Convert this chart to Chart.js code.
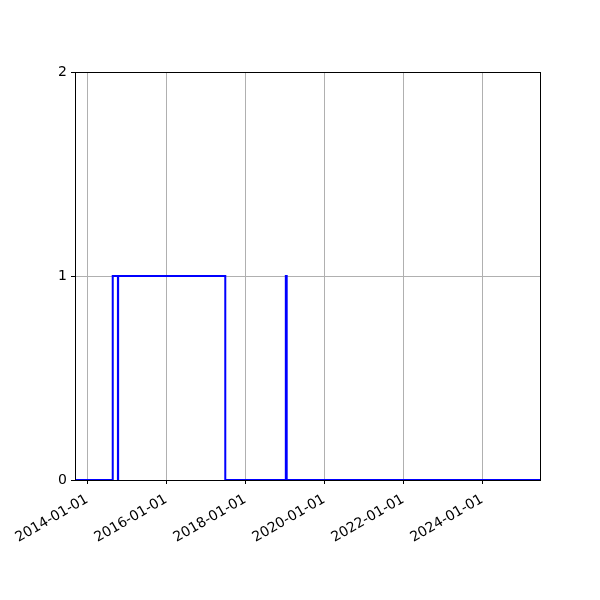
<!DOCTYPE html>
<html>
<head>
<meta charset="utf-8">
<script src="https://cdn.jsdelivr.net/npm/chart.js@4"></script>
<style>
  html, body { margin: 0; padding: 0; background: #fff; }
</style>
</head>
<body>
<canvas id="chart" width="600" height="600"></canvas>
<script>
// step data
const stepDates = ['2013-09-01', '2014-08-25', '2014-10-12', '2014-10-14', '2017-07-01', '2019-01-12', '2019-01-20', '2025-06-20'];
const stepValues = [0, 1, 0, 1, 0, 1, 0, 0];
const xTickDates = ['2014-01-01', '2016-01-01', '2018-01-01', '2020-01-01', '2022-01-01', '2024-01-01'];
const yTicks = [0, 1, 2];
const xMin = '2013-09-10';
const xMax = '2025-06-20';

function ts(s) { return Date.parse(s + 'T00:00:00Z'); }
function fmt(v) {
  const d = new Date(v);
  const p = n => String(n).padStart(2, '0');
  return d.getUTCFullYear() + '-' + p(d.getUTCMonth() + 1) + '-' + p(d.getUTCDate());
}

const points = stepDates.map((d, i) => ({ x: ts(d), y: stepValues[i] }));

// box around plot area like matplotlib
const boxPlugin = {
  id: 'box',
  afterDraw(chart) {
    const a = chart.chartArea, c = chart.ctx;
    c.save();
    c.strokeStyle = '#000';
    c.lineWidth = 1;
    c.strokeRect(Math.round(a.left) + 0.5, Math.round(a.top) + 0.5, Math.round(a.right - a.left), Math.round(a.bottom - a.top));
    c.restore();
  }
};

new Chart(document.getElementById('chart'), {
  type: 'line',
  data: {
    datasets: [{
      data: points,
      stepped: 'before',
      borderColor: '#0000ff',
      borderWidth: 2,
      pointRadius: 0,
      fill: false
    }]
  },
  options: {
    responsive: false,
    animation: false,
    devicePixelRatio: 1,
    layout: { padding: { top: 72, right: 60, left: 0, bottom: 0 } },
    plugins: { legend: { display: false }, tooltip: { enabled: false } },
    scales: {
      x: {
        type: 'linear',
        min: ts(xMin),
        max: ts(xMax),
        afterBuildTicks: s => { s.ticks = xTickDates.map(d => ({ value: ts(d) })); },
        afterFit: s => { s.height = 120; },
        grid: { color: '#b0b0b0', tickColor: '#000', tickLength: 4, lineWidth: 1 },
        border: { color: '#000', width: 1 },
        ticks: {
          autoSkip: false,
          callback: v => fmt(v),
          color: '#000',
          font: { family: 'DejaVu Sans', size: 14 },
          minRotation: 30,
          maxRotation: 30,
          padding: 7
        }
      },
      y: {
        min: 0,
        max: 2,
        afterBuildTicks: s => { s.ticks = yTicks.map(v => ({ value: v })); },
        afterFit: s => { s.width = 75; },
        grid: { color: '#b0b0b0', tickColor: '#000', tickLength: 4, lineWidth: 1 },
        border: { color: '#000', width: 1 },
        ticks: {
          autoSkip: false,
          color: '#000',
          font: { family: 'DejaVu Sans', size: 14 },
          padding: 4
        }
      }
    }
  },
  plugins: [boxPlugin]
});
</script>
</body>
</html>
